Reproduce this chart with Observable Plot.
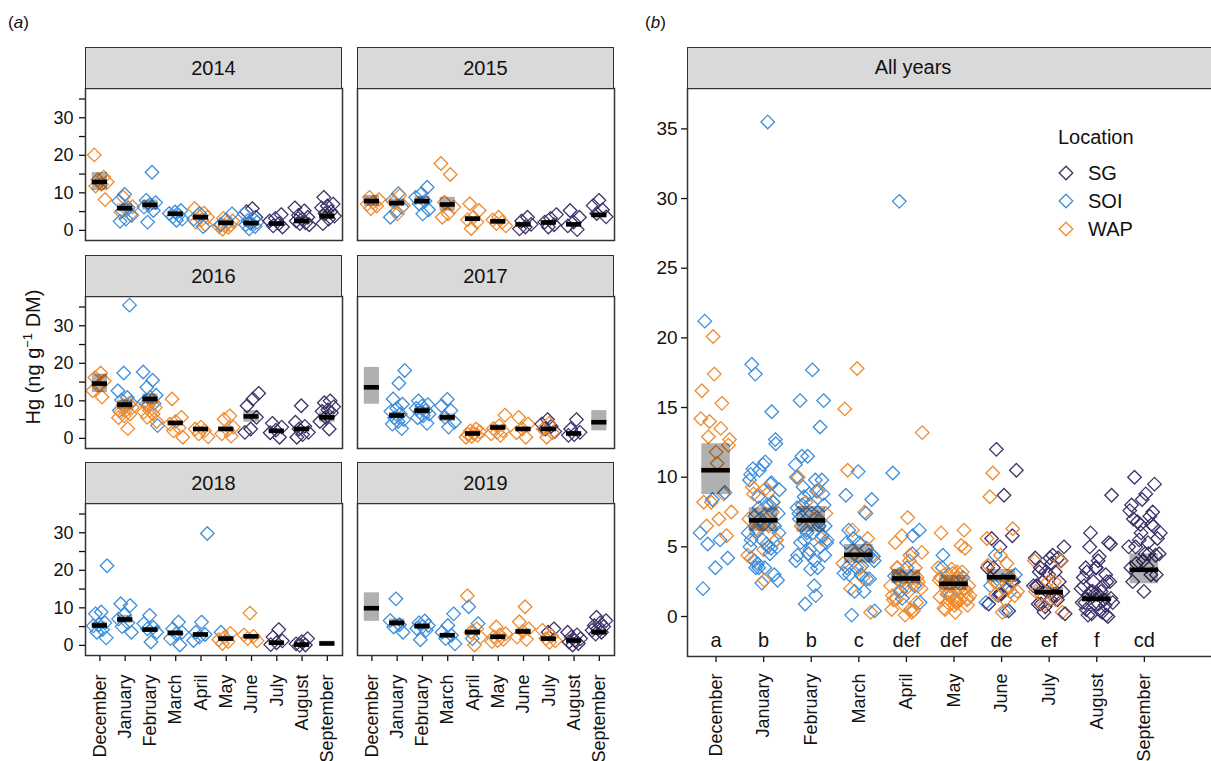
<!DOCTYPE html>
<html><head><meta charset="utf-8">
<script src="https://cdn.jsdelivr.net/npm/d3@7"></script>
<script src="https://cdn.jsdelivr.net/npm/@observablehq/plot@0.6"></script>
<style>
body{margin:0;background:#fff;font-family:"Liberation Sans",Arial,Helvetica,sans-serif;color:#111;}
#root{position:relative;width:1211px;height:761px;overflow:hidden;background:#fff;}
.abs{position:absolute;}
.strip{position:absolute;background:#d9d9d9;border:1.5px solid #333;box-sizing:border-box;font-size:20px;display:flex;align-items:center;justify-content:center;}
.lbl{position:absolute;font-size:17px;}
</style></head><body><div id="root"></div><script>
const months = ["December","January","February","March","April","May","June","July","August","September"];
const locations = ["SG","SOI","WAP"];
const colors = ["#3e3169","#3d8edb","#ef8a2e"];
const letters = ["a","b","b","c","def","def","de","ef","f","cd"];

// points: [month, location, values]
const pts2014 = [
 ["December","WAP",[20.1,14.2,13.5,12.9,12.3,11.8,8.2]],
 ["January","WAP",[8.9,6.3,5.5,4.8,4.2]],
 ["January","SOI",[9.6,7.8,6.0,5.2,4.0,3.0,2.4]],
 ["February","SOI",[15.5,8.0,7.4,6.8,6.2,5.3,2.2]],
 ["March","SOI",[5.3,4.9,4.5,4.0,3.6,3.0,2.7]],
 ["April","WAP",[5.8,4.6,4.0,3.5,2.8,2.2,1.5]],
 ["April","SOI",[4.5,3.0,1.0]],
 ["May","WAP",[3.2,2.5,2.0,1.6,1.4,1.2,1.0,0.8,0.3]],
 ["May","SOI",[4.4,2.8,1.5]],
 ["June","SG",[5.8,5.0,3.5,2.0]],
 ["June","SOI",[4.4,3.0,2.6,2.2,1.8,1.5,1.0,0.4]],
 ["July","SG",[4.2,3.2,2.5,1.8,1.2,0.9]],
 ["August","SG",[6.0,5.2,4.0,3.5,3.0,2.5,2.0,1.8,1.5]],
 ["September","SG",[8.8,7.0,6.5,6.0,5.0,4.5,3.8,3.0,1.8]]
];
const pts2015 = [
 ["December","WAP",[8.8,8.2,7.5,7.0,6.5,5.8]],
 ["January","SOI",[9.8,8.0,6.2,5.0,3.5]],
 ["January","WAP",[9.3,7.5,6.6,4.4]],
 ["February","SOI",[11.5,9.8,8.8,7.8,7.1,5.5,4.4]],
 ["March","WAP",[17.8,14.9,7.5,6.2,4.4,3.5]],
 ["April","WAP",[7.1,5.3,3.5,2.8,2.2,0.5]],
 ["May","WAP",[3.5,2.8,2.2,1.8,1.2]],
 ["June","SG",[3.5,2.5,1.6,0.9,0.4]],
 ["July","SG",[4.2,3.2,2.2,1.5,0.9]],
 ["August","SG",[5.3,3.5,2.2,1.2,0.2]],
 ["September","SG",[8.0,6.6,5.5,4.5,3.6]]
];
const pts2016 = [
 ["December","WAP",[17.4,16.2,15.3,14.0,12.7,11.0]],
 ["January","SOI",[35.5,17.4,12.7,10.9,10.2,9.5,8.6,7.4]],
 ["January","WAP",[9.2,8.8,8.2,7.6,7.0,6.5,6.0,5.5,2.6]],
 ["February","SOI",[17.7,15.5,13.6,11.5,10.9,9.8,9.3,8.8,3.4]],
 ["February","WAP",[10.0,9.0,8.2,7.4,7.0,6.5,5.6,4.5]],
 ["March","WAP",[10.5,5.6,4.5,3.8,2.8,2.0,0.3]],
 ["April","WAP",[3.0,2.5,2.0,1.2,0.4]],
 ["May","WAP",[6.0,5.1,3.0,2.2,1.2,0.6]],
 ["June","SG",[12.0,10.5,8.7,5.6,2.5,1.6]],
 ["July","SG",[4.0,3.0,2.2,1.5,0.3]],
 ["August","SG",[8.7,4.3,3.2,2.5,1.6,1.0,0.3]],
 ["September","SG",[10.0,9.5,8.4,7.6,7.2,6.8,5.6,4.5,2.5]]
];
const pts2017 = [
 ["January","SOI",[18.1,14.7,10.5,9.1,8.0,7.2,6.5,5.5,5.0,4.5,3.8,2.6]],
 ["February","SOI",[10.0,9.0,8.6,8.0,7.4,7.0,6.5,6.0,5.5,4.0]],
 ["March","SOI",[10.4,8.7,7.4,5.6,4.3,3.0]],
 ["April","WAP",[2.5,2.0,1.8,1.3,1.0,0.8,0.5,0.3]],
 ["May","WAP",[6.2,3.4,2.6,2.0,1.6,1.2,0.8]],
 ["June","WAP",[5.6,3.8,2.5,1.5,0.3]],
 ["July","SG",[5.0,3.8,3.2,2.5,1.8]],
 ["July","WAP",[4.0,2.5,1.5,0.3]],
 ["August","SG",[5.0,2.5,1.6,1.0,0.8]]
];
const pts2018 = [
 ["December","SOI",[21.2,8.9,8.4,6.0,5.5,5.2,4.2,3.5,2.0]],
 ["January","SOI",[11.1,10.6,8.2,7.0,6.0,5.0,3.5]],
 ["February","SOI",[8.0,5.8,4.8,4.4,3.5,0.9]],
 ["March","SOI",[6.2,4.4,3.5,3.1,1.8,0.1]],
 ["April","SOI",[29.8,6.2,3.5,2.9,2.2,1.3]],
 ["May","SOI",[3.5]],
 ["May","WAP",[3.2,2.2,1.5,1.0,0.5]],
 ["June","WAP",[8.6,2.8,2.4,1.8,1.2]],
 ["July","SG",[4.2,2.2,1.2,0.7,0.2]],
 ["August","SG",[1.8,1.0,0.4,0.1,0.0]]
];
const pts2019 = [
 ["January","SOI",[12.4,6.6,5.5,4.9,3.5]],
 ["February","SOI",[6.5,6.0,5.3,5.0,4.5,4.0,1.5]],
 ["March","SOI",[8.4,5.3,3.5,2.7,1.8,0.4]],
 ["April","WAP",[13.2,4.4,3.5,2.2,0.1]],
 ["April","SOI",[10.3,5.8,1.8]],
 ["May","WAP",[4.9,3.1,2.8,2.3,1.6,1.3,1.0]],
 ["June","WAP",[10.3,6.3,4.4,3.7,2.2,1.6]],
 ["July","SG",[4.4,3.5]],
 ["July","WAP",[4.0,2.5,1.8,1.2,0.8]],
 ["August","SG",[3.5,2.8,2.2,1.8,1.3,0.9,0.5,0.1]],
 ["September","SG",[7.5,6.6,6.0,5.3,5.0,4.4,4.0,3.5,3.0]]
];

// per-month [median, lower, upper], months in order
const st2014 = [[12.9,10.6,15.4],[5.9,5.1,7.0],[6.8,5.4,8.1],[4.4,3.7,5.1],[3.5,2.8,4.2],[2.0,1.5,2.5],[1.9,1.3,2.6],[1.8,1.3,2.3],[2.5,1.8,3.4],[3.8,2.8,5.4]];
const st2015 = [[7.8,6.4,9.3],[7.3,6.3,8.3],[7.8,6.8,9.0],[6.9,5.1,8.8],[3.1,2.4,3.7],[2.4,2.0,2.8],[1.6,1.2,2.0],[2.1,1.7,2.5],[1.6,1.1,2.1],[4.1,3.6,4.8]];
const st2016 = [[14.6,12.2,17.1],[9.0,7.8,10.2],[10.5,9.1,11.8],[4.1,3.5,4.6],[2.5,2.0,2.9],[2.5,2.0,3.0],[5.85,4.3,7.4],[2.0,1.6,2.4],[2.5,2.0,3.0],[5.6,4.3,7.0]];
const st2017 = [[13.6,9.1,18.9],[6.1,5.3,6.9],[7.4,6.5,8.3],[5.6,4.5,6.5],[1.3,1.0,1.6],[2.9,2.2,3.6],[2.5,2.0,3.0],[2.5,2.0,3.0],[1.3,1.0,1.7],[4.3,2.0,7.4]];
const st2018 = [[5.3,4.5,6.2],[6.9,5.9,8.0],[4.2,3.6,4.8],[3.3,2.7,3.9],[2.9,2.4,3.4],[1.8,1.4,2.3],[2.4,2.0,2.8],[0.7,0.4,1.2],[0.2,0.0,0.5],[0.5,-0.1,1.1]];
const st2019 = [[9.9,6.4,14.0],[6.0,5.0,7.0],[5.1,4.5,5.8],[2.7,2.2,3.2],[3.5,2.8,4.2],[2.3,1.9,2.7],[3.7,3.0,4.4],[1.8,1.4,2.2],[1.3,0.9,1.7],[3.5,2.9,4.2]];
// all years
const stAll = [[10.5,8.75,12.4],[6.9,6.1,7.8],[6.9,6.05,7.9],[4.43,3.83,5.17],[2.73,2.35,3.35],[2.35,1.87,2.94],[2.82,2.46,3.37],[1.75,1.51,2.1],[1.27,1.03,1.63],[3.35,2.35,4.5]];

const years = ["2014","2015","2016","2017","2018","2019"];
const ptsByYear = [pts2014,pts2015,pts2016,pts2017,pts2018,pts2019];
const stByYear = [st2014,st2015,st2016,st2017,st2018,st2019];

// ---------- helpers ----------
const FONT = '"Liberation Sans", Arial, Helvetica, sans-serif';
const root = document.getElementById("root");
function expand(rows){
  return rows.flatMap(([m, loc, vals]) => vals.map(v => ({mi: months.indexOf(m), loc, value: v})));
}
function jitter(points, w, seed){
  const counts = {};
  return points.map(p => {
    const k = counts[p.mi] = (counts[p.mi] ?? -1) + 1;
    const f = (k * 0.6180339887 + seed + p.mi * 0.237) % 1;
    return {...p, xj: p.mi + (f - 0.5) * 2 * w};
  });
}
function statRows(st){ return st.map(([m,lo,hi], i) => ({i, m, lo, hi})); }
function place(el, left, top){ el.style.position="absolute"; el.style.left=left+"px"; el.style.top=top+"px"; root.appendChild(el); }
function div(cls, html, css){ const d=document.createElement("div"); d.className=cls; d.innerHTML=html; Object.assign(d.style, css); root.appendChild(d); return d; }
const svgStyle = {fontFamily: FONT, fontSize: "18px", color: "#111", background: "transparent", maxWidth: "none", overflow: "visible"};

function dataMarks(points, st, barW){
  const rows = statRows(st);
  return [
    Plot.dot(points, {x: "xj", y: "value", stroke: "loc", symbol: "diamond2", r: 6.1, strokeWidth: 1.3}),
    Plot.rect(rows, {x1: d => d.i - barW, x2: d => d.i + barW, y1: "lo", y2: "hi", fill: "black", fillOpacity: 0.31}),
    Plot.ruleY(rows, {x1: d => d.i - barW, x2: d => d.i + barW, y: "m", stroke: "black", strokeWidth: 4.6})
  ];
}

// ---------- panel (a) ----------
const colLeft = [85, 357], colW = 257;
const stripTop = [47, 255, 462], stripH = 42, plotH = 152;
years.forEach((yr, idx) => {
  const c = idx % 2, r = Math.floor(idx / 2);
  const showY = c === 0, showX = r === 2;
  const plotTop = stripTop[r] + 41;
  const mb = showX ? 108 : 4;
  const pts = jitter(expand(ptsByYear[idx]), 0.3, 0.13 + idx * 0.21);
  const marks = [];
  if (showY) marks.push(Plot.axisY({ticks: d3.range(0, 36, 5), tickFormat: d => d % 10 === 0 ? String(d) : "", tickSize: 6, tickPadding: 6, label: null, strokeWidth: 1.3, fontSize: 18}));
  if (showX) {
    marks.push(Plot.axisX({ticks: d3.range(10), tickFormat: () => "", tickSize: 6, label: null, strokeWidth: 1.3}));
    marks.push(Plot.text(months, {x: (d, i) => i, frameAnchor: "bottom", dy: 19, rotate: -90, textAnchor: "end", lineAnchor: "middle", text: d => d, fontSize: 18}));
  }
  marks.push(...dataMarks(pts, stByYear[idx], 0.3));
  marks.push(Plot.frame({stroke: "#333", strokeWidth: 1.5}));
  const svg = Plot.plot({
    width: 85 + colW + 6, height: 2 + plotH + mb,
    marginLeft: 85, marginRight: 6, marginTop: 2, marginBottom: mb,
    x: {type: "linear", domain: [-0.57, 9.6], axis: null, label: null},
    y: {domain: [-2.7, 37.8], axis: null, label: null},
    color: {domain: locations, range: colors},
    style: svgStyle,
    marks
  });
  place(svg, colLeft[c] - 85, plotTop - 2);
  div("strip", yr, {left: colLeft[c] + "px", top: stripTop[r] + "px", width: colW + "px", height: stripH + "px"});
});

// ---------- panel (b) ----------
const allPts = jitter(ptsByYear.flatMap(expand), 0.34, 0.41);
const bLeft = 686.7, bTop = 88, bH = 568, bStep = 47.59;
const bDomain = [-0.6, 10.6];
const bPlotW = (bDomain[1] - bDomain[0]) * bStep;
const svgB = Plot.plot({
  width: 60 + bPlotW + 5, height: 2 + bH + 105,
  marginLeft: 60, marginRight: 5, marginTop: 2, marginBottom: 105,
  x: {type: "linear", domain: bDomain, axis: null, label: null},
  y: {domain: [-2.87, 37.9], axis: null, label: null},
  color: {domain: locations, range: colors},
  style: svgStyle,
  marks: [
    Plot.axisY({ticks: d3.range(0, 36, 5), tickSize: 6, tickPadding: 4, label: null, strokeWidth: 1.3, fontSize: 19}),
    Plot.axisX({ticks: d3.range(10), tickFormat: () => "", tickSize: 6, label: null, strokeWidth: 1.3}),
    Plot.text(months, {x: (d, i) => i, frameAnchor: "bottom", dy: 17, rotate: -90, textAnchor: "end", lineAnchor: "middle", text: d => d, fontSize: 18}),
    ...dataMarks(allPts, stAll, 0.3),
    Plot.text(letters, {x: (d, i) => i, y: -1.75, text: d => d, fontSize: 20, lineAnchor: "middle"}),
    Plot.frame({stroke: "#333", strokeWidth: 1.5})
  ]
});
place(svgB, bLeft - 60, bTop - 2);
div("strip", "", {left: bLeft + "px", top: "47px", width: "560px", height: stripH + "px"});
div("abs", "All years", {left: "813px", top: "47px", width: "200px", height: "41px", lineHeight: "41px", textAlign: "center", fontSize: "20px"});

// legend
div("abs", "Location", {left: "1058px", top: "126px", fontSize: "20px"});
locations.forEach((loc, i) => {
  const cy = 173 + i * 28;
  div("abs", `<svg width="18" height="18"><path d="M9,2.2L15.8,9L9,15.8L2.2,9Z" fill="none" stroke="${colors[i]}" stroke-width="1.3"/></svg>`, {left: (1066 - 9) + "px", top: (cy - 9) + "px", width: "18px", height: "18px"});
  div("abs", loc, {left: "1088px", top: (cy - 12) + "px", fontSize: "20px", lineHeight: "24px"});
});

// panel labels and y title
div("lbl", "(<i>a</i>)", {left: "8px", top: "13px"});
div("lbl", "(<i>b</i>)", {left: "645px", top: "13px"});
div("abs", "Hg (ng g<sup style='font-size:13px;vertical-align:8px'>−1</sup> DM)", {left: (28 - 110) + "px", top: (357 - 13) + "px", width: "220px", height: "26px", lineHeight: "26px", textAlign: "center", fontSize: "20px", transform: "rotate(-90deg)"});
</script></body></html>
